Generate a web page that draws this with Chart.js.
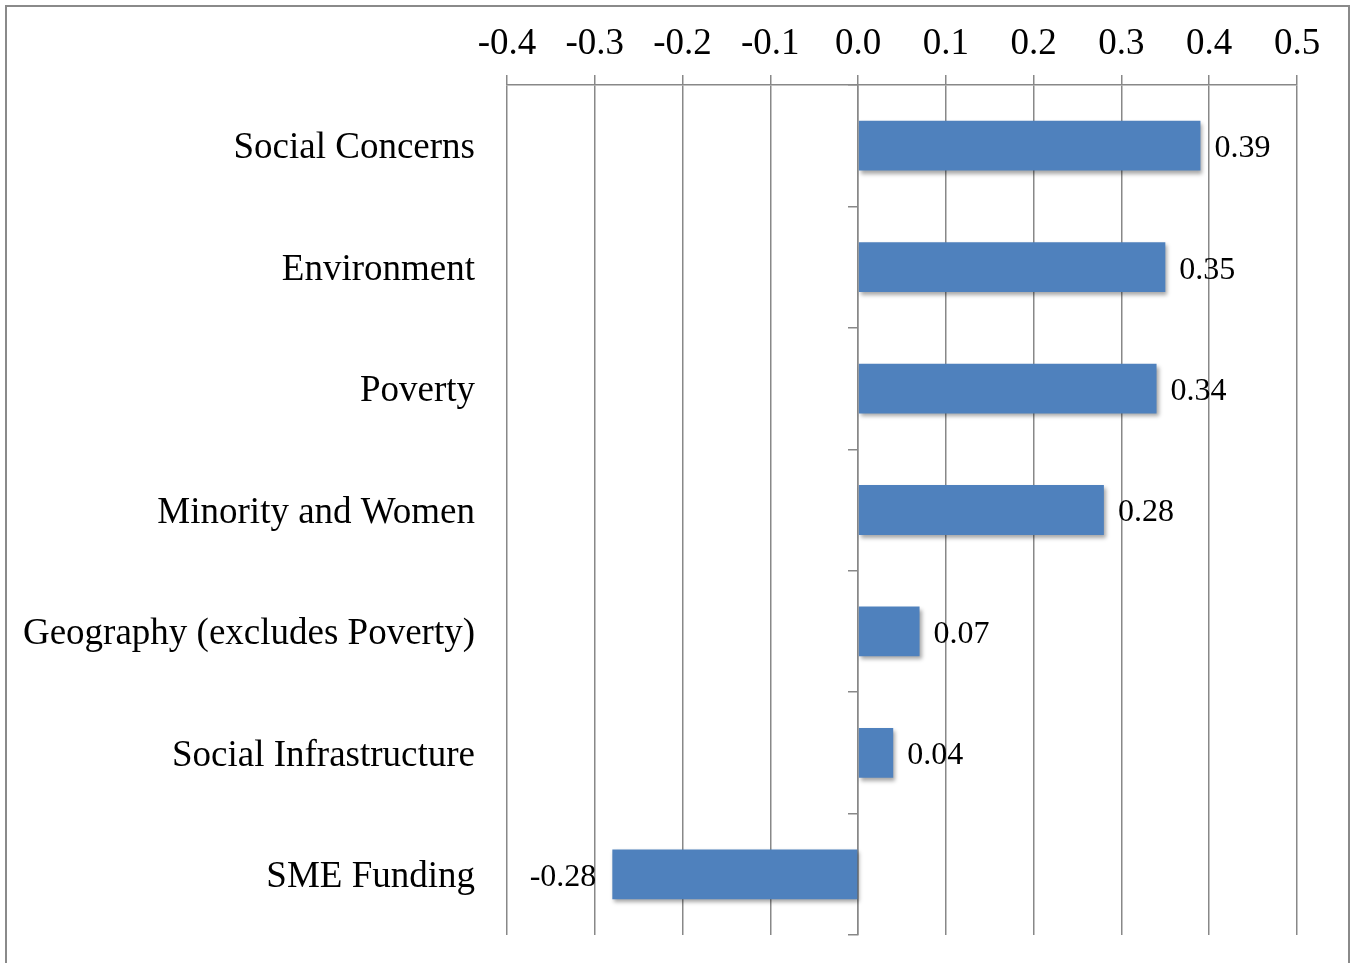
<!DOCTYPE html>
<html>
<head>
<meta charset="utf-8">
<script src="https://cdn.jsdelivr.net/npm/chart.js@4"></script>
<style>
  body { margin: 0; background: #fff; overflow: hidden; }
  #frame {
    position: absolute; left: 5px; top: 5px;
    width: 1341px; height: 980px;
    border: 2px solid #8a8a8a;
  }
  #chart { position: absolute; left: 0; top: 0; }
</style>
</head>
<body>
<div id="frame"></div>
<canvas id="chart" width="1352" height="963"></canvas>
<script>
const categories = [
  "Social Concerns",
  "Environment",
  "Poverty",
  "Minority and Women",
  "Geography (excludes Poverty)",
  "Social Infrastructure",
  "SME Funding"
]
const scores = [0.39, 0.35, 0.34, 0.28, 0.07, 0.04, -0.28]
const xTicks = [-0.4, -0.3, -0.2, -0.1, 0.0, 0.1, 0.2, 0.3, 0.4, 0.5]

const serif = "'Liberation Serif', 'Times New Roman', serif"
const gridGray = '#888888'

// soft drop shadow under the bars
const barShadow = {
  id: 'barShadow',
  beforeDatasetsDraw(chart) {
    const ctx = chart.ctx
    ctx.save()
    ctx.shadowColor = 'rgba(0, 0, 0, 0.35)'
    ctx.shadowBlur = 4
    ctx.shadowOffsetX = 2
    ctx.shadowOffsetY = 3
  },
  afterDatasetsDraw(chart) {
    chart.ctx.restore()
  }
}

// value printed at the end of each bar
const valueLabels = {
  id: 'valueLabels',
  afterDatasetsDraw(chart) {
    const ctx = chart.ctx
    const meta = chart.getDatasetMeta(0)
    ctx.save()
    ctx.font = `32px ${serif}`
    ctx.fillStyle = '#000'
    ctx.textBaseline = 'middle'
    meta.data.forEach((bar, i) => {
      const v = scores[i]
      if (v >= 0) {
        ctx.textAlign = 'left'
        ctx.fillText(v.toFixed(2), bar.x + 14, bar.y + 3)
      } else {
        ctx.textAlign = 'right'
        ctx.fillText(v.toFixed(2), bar.x - 16, bar.y + 3)
      }
    })
    ctx.restore()
  }
}

const ctx = document.getElementById('chart').getContext('2d')
const myChart = new Chart(ctx, {
  type: 'bar',
  data: {
    labels: categories,
    datasets: [{
      data: scores,
      backgroundColor: '#4f81bd',
      borderWidth: 0,
      barPercentage: 0.41,
      categoryPercentage: 1.0,
      yAxisID: 'y'
    }]
  },
  options: {
    indexAxis: 'y',
    responsive: false,
    animation: false,
    devicePixelRatio: 1,
    layout: {
      padding: { left: 0, top: 0, right: 55, bottom: 28 }
    },
    scales: {
      x: {
        position: 'top',
        min: -0.4,
        max: 0.5,
        afterBuildTicks(scale) {
          scale.ticks = xTicks.map(v => ({ value: v }))
        },
        afterFit(scale) {
          scale.height = 85
        },
        grid: {
          color: gridGray,
          lineWidth: 1.5,
          tickLength: 10
        },
        border: { display: true, color: gridGray, width: 1.5 },
        ticks: {
          color: '#000',
          padding: 9,
          maxRotation: 0,
          font: { family: serif, size: 37 },
          callback: (value) => Number(value).toFixed(1)
        }
      },
      y: {
        position: 'left',
        afterFit(scale) {
          scale.width = 507
          // labels sit in the middle of their bands, no overhang to reserve
          scale.paddingTop = 0
          scale.paddingBottom = 0
        },
        grid: { display: false },
        border: { display: false },
        ticks: {
          color: '#000',
          padding: 24,
          labelOffset: 3,
          font: { family: serif, size: 37 }
        }
      },
      y2: {
        type: 'category',
        position: { x: 0 },
        offset: true,
        grid: {
          offset: true,
          drawOnChartArea: false,
          color: gridGray,
          lineWidth: 1.5,
          tickLength: 9
        },
        border: { display: true, color: gridGray, width: 1.5 },
        ticks: { display: false }
      }
    },
    plugins: {
      legend: { display: false },
      tooltip: { enabled: false }
    }
  },
  plugins: [barShadow, valueLabels]
})
</script>
</body>
</html>
